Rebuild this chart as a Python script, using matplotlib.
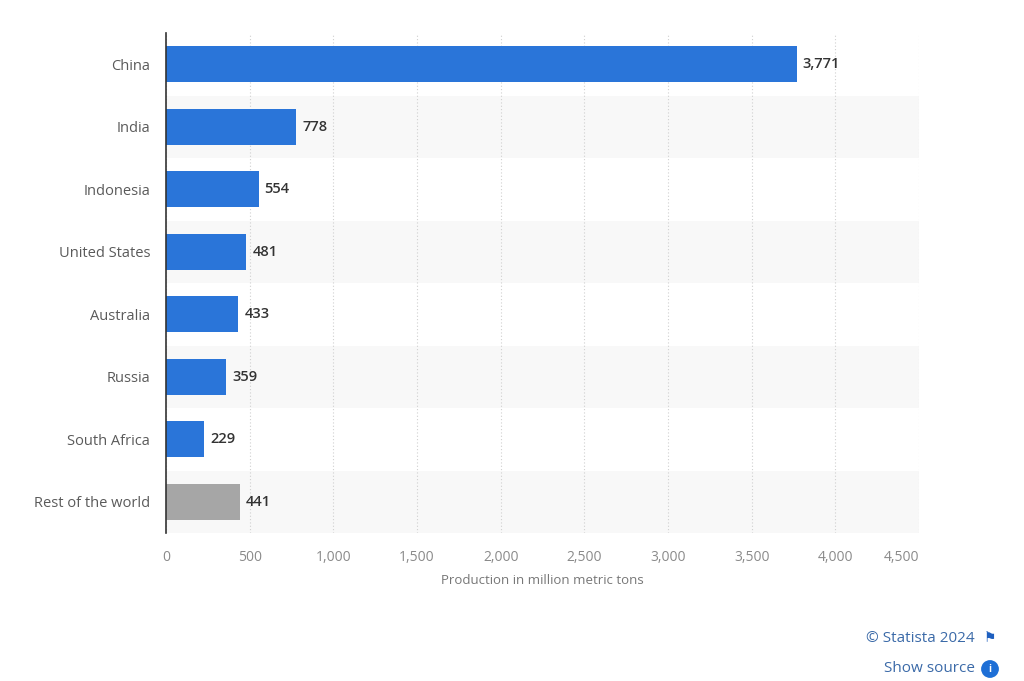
import matplotlib
matplotlib.use("Agg")
import matplotlib.pyplot as plt
from matplotlib.ticker import FuncFormatter

plt.rcParams['font.family'] = ['Open Sans', 'DejaVu Sans']

countries = ["China", "India", "Indonesia", "United States", "Australia",
             "Russia", "South Africa", "Rest of the world"]
production = [3771, 778, 554, 481, 433, 359, 229, 441]
bar_colors = ["#2a75d9"] * 7 + ["#a6a6a6"]
x_ticks = [0, 500, 1000, 1500, 2000, 2500, 3000, 3500, 4000, 4500]

fig = plt.figure(figsize=(10.24, 6.81), dpi=100)
ax = fig.add_axes([166/1024, 1 - 533/681, (919 - 166)/1024, 500/681])

n = len(countries)
ypos = list(range(n))

# alternating row bands
for i in ypos:
    if i % 2 == 1:
        ax.axhspan(i - 0.5, i + 0.5, color="#f8f8f8", zorder=0, lw=0)

ax.barh(ypos, production, height=0.57, color=bar_colors, zorder=3)

for y, v in zip(ypos, production):
    ax.text(v + 35, y, f"{v:,}", va="center", ha="left", fontsize=10.5,
            fontweight="semibold", color="#333333", zorder=4)

ax.set_xlim(0, 4500)
ax.set_ylim(n - 0.5, -0.5)
ax.set_yticks(ypos)
ax.set_yticklabels(countries, fontsize=10.5, color="#5a5a5a")
ax.set_xticks(x_ticks)
ax.xaxis.set_major_formatter(FuncFormatter(lambda v, p: f"{int(v):,}"))
for lbl in ax.get_xticklabels():
    lbl.set_fontsize(10)
    lbl.set_color("#8a8a8a")
xl = ax.get_xticklabels()
xl[-1].set_ha("right")
xl[-1].set_x(4500)

ax.tick_params(axis="both", length=0)
ax.tick_params(axis="y", pad=11.5)
ax.tick_params(axis="x", pad=12)

ax.grid(axis="x", color="#d0d0d0", linestyle=(0, (1, 2)), linewidth=0.8, zorder=1)
ax.set_axisbelow(True)
for s in ["top", "right", "bottom"]:
    ax.spines[s].set_visible(False)
ax.spines["left"].set_color("#333333")
ax.spines["left"].set_linewidth(1.2)
ax.spines["left"].set_zorder(5)

ax.set_xlabel("Production in million metric tons", fontsize=9.5, color="#777777")
ax.xaxis.set_label_coords((542 - 166) / (919 - 166), -(581 - 533) / 500)
ax.xaxis.label.set_va("center")

# footer
fig.text(975/1024, 1 - 638/681, "© Statista 2024", ha="right", va="center",
         fontsize=11, color="#3b6aa8")
fig.text(990/1024, 1 - 638/681, "⚑", ha="center", va="center",
         fontsize=10, color="#1e5fbf", family=["DejaVu Sans"])
fig.text(975/1024, 1 - 669/681, "Show source", ha="right", va="center",
         fontsize=11, color="#3b6aa8")
fig.text(990/1024, 1 - 669/681, "i", ha="center", va="center",
         fontsize=7, color="white", fontweight="bold",
         bbox=dict(boxstyle="circle,pad=0.35", fc="#1e6fd6", ec="none"))

fig.savefig("out.png", dpi=100)
